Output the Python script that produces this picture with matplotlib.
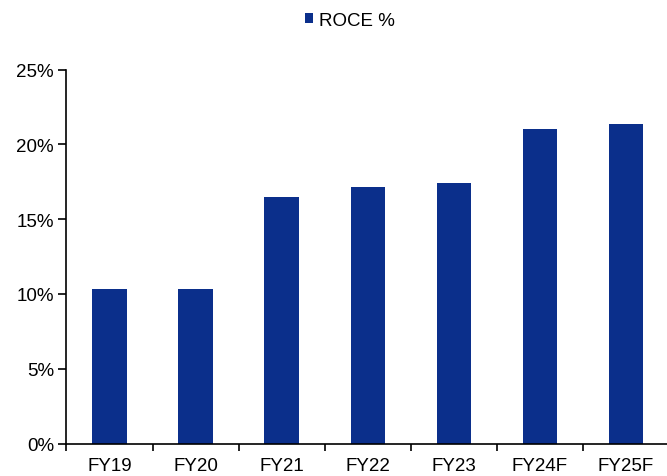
import numpy as np
import matplotlib.pyplot as plt
from matplotlib.ticker import FixedLocator, PercentFormatter

plt.rcParams['font.family'] = ['Liberation Sans', 'DejaVu Sans']

years = ['FY19', 'FY20', 'FY21', 'FY22', 'FY23', 'FY24F', 'FY25F']
roce = [10.33, 10.33, 16.46, 17.12, 17.39, 21.02, 21.36]

fig = plt.figure(figsize=(6.67, 4.77), dpi=100)
ax = fig.add_axes([0.0997, 0.0681, 0.9033, 0.7839])

x = np.arange(len(years))
ax.bar(x, roce, width=0.4, color='#0b2f8b', label='ROCE %')

ax.set_xlim(-0.5, len(years) - 0.5)
ax.set_ylim(0, 25)
ax.set_yticks(np.arange(0, 26, 5))
ax.yaxis.set_major_formatter(PercentFormatter(decimals=0))
ax.set_xticks(x)
ax.set_xticklabels(years)
ax.xaxis.set_minor_locator(FixedLocator(np.arange(-0.5, len(years), 1)))

for s in ['top', 'right']:
    ax.spines[s].set_visible(False)
for s in ['left', 'bottom']:
    ax.spines[s].set_linewidth(1.2)

ax.tick_params(axis='y', direction='out', length=6, width=1.2, pad=3, labelsize=13.5)
ax.tick_params(axis='x', which='major', length=0, pad=9.8, labelsize=13.5)
ax.tick_params(axis='x', which='minor', direction='out', length=5, width=1.2)

fig.legend(loc='center', bbox_to_anchor=(0.524, 0.955), frameon=False,
           fontsize=13.5, handlelength=0.45, handleheight=0.45, handletextpad=0.3)

fig.savefig('out.png', dpi=100)
